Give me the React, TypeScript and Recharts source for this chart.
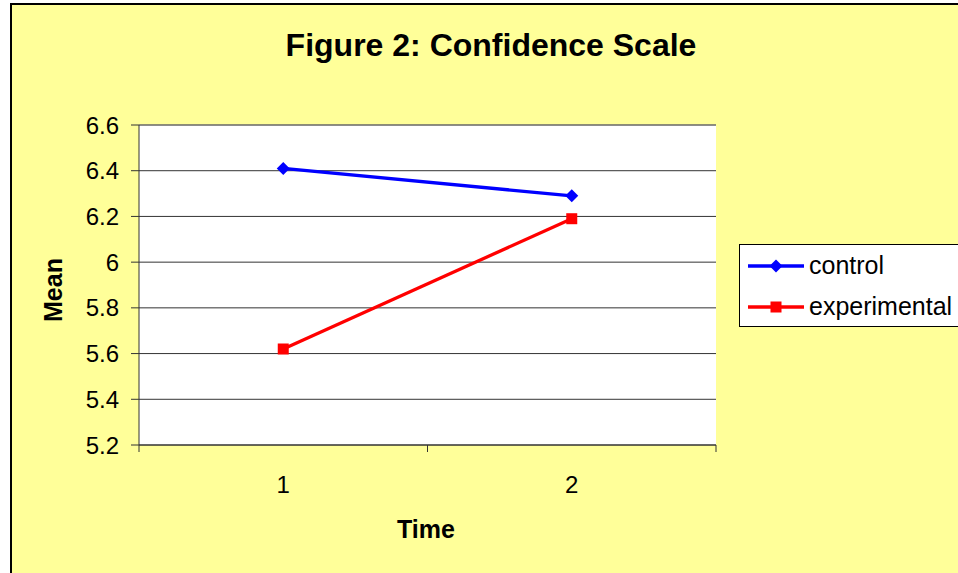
import { CartesianGrid, Legend, Line, LineChart, ReferenceLine, XAxis, YAxis } from 'recharts';

const times = ['1', '2'];
const control = [6.41, 6.29];
const experimental = [5.62, 6.19];
const yTicks = [5.2, 5.4, 5.6, 5.8, 6, 6.2, 6.4, 6.6];

const data = times.map((t, i) => ({ time: t, control: control[i], experimental: experimental[i] }));

const font = '"Liberation Sans", Arial, sans-serif';
const X_TICK = 8;
const X_GAP = 23;

const Diamond = (p: any) => {
  const { cx, cy, index } = p;
  if (cx == null || cy == null) return null;
  return <path key={`dia-${index}`} d={`M${cx},${cy - 6.5}L${cx + 6.5},${cy}L${cx},${cy + 6.5}L${cx - 6.5},${cy}Z`} fill="#0000ff" />;
};

const Square = (p: any) => {
  const { cx, cy, index } = p;
  if (cx == null || cy == null) return null;
  return <rect key={`sq-${index}`} x={cx - 5.5} y={cy - 5.5} width={11} height={11} fill="#ff0000" />;
};

// category label, with tick marks on the band edges (Excel style)
const TimeTick = (p: any) => {
  const { x, y, payload } = p;
  const half = payload && payload.offset ? payload.offset : 0;
  const top = y - X_TICK - X_GAP;
  return (
    <g>
      {half > 0 && <line x1={x - half} y1={top} x2={x - half} y2={top + 7} stroke="#333" />}
      {half > 0 && <line x1={x + half} y1={top} x2={x + half} y2={top + 7} stroke="#333" />}
      <text x={x} y={y} dy="0.71em" textAnchor="middle" fontSize={24} fontFamily={font} fill="#000">
        {payload.value}
      </text>
    </g>
  );
};

function LegendBox({ payload }: any) {
  return (
    <div style={{ background: '#fff', border: '1px solid #000', height: 83, boxSizing: 'border-box', paddingLeft: 8, fontFamily: font }}>
      {(payload || []).map((e: any) => (
        <div key={e.value} style={{ display: 'flex', alignItems: 'center', height: 41 }}>
          <svg width={56} height={14} style={{ marginRight: 5 }}>
            <line x1={0} y1={7} x2={56} y2={7} stroke={e.color} strokeWidth={3.3} />
            {e.value === 'control' ? (
              <path d="M28,0.5L34.5,7L28,13.5L21.5,7Z" fill={e.color} />
            ) : (
              <rect x={22.5} y={1.5} width={11} height={11} fill={e.color} />
            )}
          </svg>
          <span style={{ fontSize: 25, color: '#000' }}>{e.value}</span>
        </div>
      ))}
    </div>
  );
}

export default function App() {
  return (
    <div style={{ position: 'absolute', left: 0, top: 0, width: 958, height: 573, overflow: 'hidden', background: '#fff', fontFamily: font }}>
      <div style={{ position: 'absolute', left: 10, top: 3, width: 980, height: 600, background: '#ffff99', borderLeft: '2px solid #000', borderTop: '2px solid #000' }} />
      <div style={{ position: 'absolute', left: 0, top: 27, width: 982, textAlign: 'center', fontSize: 32, lineHeight: '36px', fontWeight: 'bold' }}>
        Figure 2: Confidence Scale
      </div>
      <div style={{ position: 'absolute', left: 3, top: 275, width: 100, textAlign: 'center', fontSize: 25, lineHeight: '30px', fontWeight: 'bold', transform: 'rotate(-90deg)' }}>
        Mean
      </div>
      <div style={{ position: 'absolute', left: 376, top: 514, width: 100, textAlign: 'center', fontSize: 25, lineHeight: '30px', fontWeight: 'bold' }}>
        Time
      </div>
      <div style={{ position: 'absolute', left: 0, top: 0 }}>
        <LineChart width={958} height={573} data={data} margin={{ top: 125, right: 242, bottom: 68, left: 0 }}>
          <CartesianGrid vertical={false} stroke="#333" fill="#fff" />
          <XAxis dataKey="time" scale="band" height={60} stroke="#333" tickLine={false} tickSize={X_TICK} tickMargin={X_GAP} interval={0} tick={TimeTick} />
          <XAxis xAxisId="b" type="number" domain={[0, 2]} hide allowDataOverflow />
          <YAxis width={139} domain={[5.2, 6.6]} ticks={yTicks} tickSize={8} tickMargin={12} stroke="#333" tick={{ fill: '#000', fontSize: 24, fontFamily: font }} tickFormatter={(v: number) => String(Number(v.toFixed(1)))} />
          <ReferenceLine xAxisId="b" x={2} stroke="#808080" />
          <ReferenceLine y={6.6} stroke="#808080" />
          <Line type="linear" dataKey="control" name="control" stroke="#0000ff" strokeWidth={3.3} dot={Diamond} activeDot={false} isAnimationActive={false} />
          <Line type="linear" dataKey="experimental" name="experimental" stroke="#ff0000" strokeWidth={3.3} dot={Square} activeDot={false} isAnimationActive={false} />
          <Legend layout="horizontal" align="center" verticalAlign="middle" content={LegendBox} wrapperStyle={{ position: 'absolute', left: 739, top: 244, width: 232, right: 'auto', bottom: 'auto' }} />
        </LineChart>
      </div>
    </div>
  );
}
